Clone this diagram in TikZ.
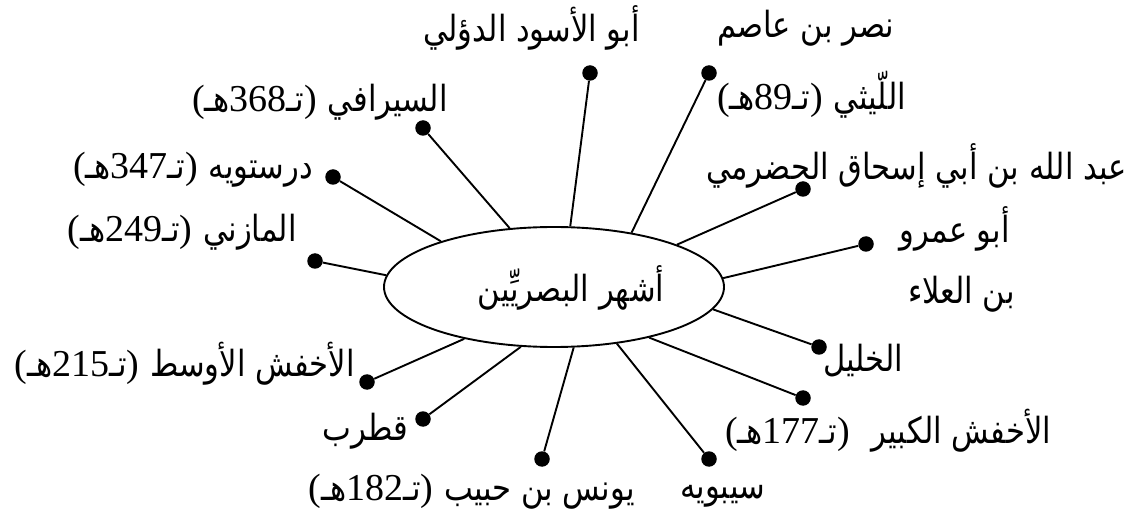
\documentclass[tikz,border=0pt]{standalone}
\usepackage{fontspec}
\usetikzlibrary{shapes.geometric}
\TeXXeTstate=1
\newfontfamily\arfont[Script=Arabic,FakeStretch=0.85]{DejaVu Sans}
\newfontfamily\serfont{Liberation Serif}
\newcommand\AR[1]{{\arfont\beginR #1\endR}}
\newcommand\SR[1]{{\serfont\fontsize{38bp}{40bp}\selectfont #1}}
\begin{document}
\begin{tikzpicture}[x=1bp,y=-1bp,
  dot/.style={circle,fill=black,inner sep=0pt,minimum size=15.5bp},
  link/.style={line width=1.9bp},
  lbl/.style={inner sep=0pt,font=\fontsize{36bp}{40bp}\selectfont},
  hubshape/.style={draw,ellipse,line width=1.9bp,minimum width=340bp,minimum height=120bp,inner sep=0pt}]
\useasboundingbox (0,0) rectangle (1131,523);
\node[hubshape] (hub) at (554,287) {};
\node[lbl,anchor=base] (hubtext) at (571,302) {\AR{أشهر البصريِّين}};
% dots
\node[dot] (d1) at (590,73) {};
\node[dot] (d2) at (709,73) {};
\node[dot] (d3) at (803,189) {};
\node[dot] (d4) at (866,244) {};
\node[dot] (d5) at (819,347) {};
\node[dot] (d6) at (803,398) {};
\node[dot] (d7) at (709,459) {};
\node[dot] (d8) at (542,459) {};
\node[dot] (d9) at (423,419) {};
\node[dot] (d10) at (367,382) {};
\node[dot] (d11) at (315,261) {};
\node[dot] (d12) at (333,177) {};
\node[dot] (d13) at (423,128) {};
% links
\draw[link] (d1) -- (hub.75);
\draw[link] (d2) -- (hub.35.6);
\draw[link] (d3) -- (hub.19.4);
\draw[link] (d4) -- (hub.3);
\draw[link] (d5) -- (hub.-8.7);
\draw[link] (d6) -- (hub.-28.3);
\draw[link] (d7) -- (hub.-42.6);
\draw[link] (d8) -- (hub.-72.4);
\draw[link] (d9) -- (hub.241.5);
\draw[link] (d10) -- (hub.210.2);
\draw[link] (d11) -- (hub.176.6);
\draw[link] (d12) -- (hub.158.9);
\draw[link] (d13) -- (hub.127.8);
% labels
\node[lbl,anchor=base east] (t1) at (640,42) {\AR{أبو الأسود الدؤلي}};
\node[lbl,anchor=base west] (t2a) at (717,38) {\AR{نصر بن عاصم}};
\node[lbl,anchor=base west] (t2b) at (717,110) {\SR{(}\AR{هـ}\SR{89}\AR{تـ}\SR{)}\ \AR{اللّيثي}};
\node[lbl,anchor=base east] (t3) at (1127,180) {\AR{عبد الله بن أبي إسحاق الحضرمي}};
\node[lbl,anchor=base east] (t4a) at (1010,243) {\AR{أبو عمرو}};
\node[lbl,anchor=base east] (t4b) at (1015,304) {\AR{بن العلاء}};
\node[lbl,anchor=base west] (t5) at (823,372) {\AR{الخليل}};
\node[lbl,anchor=base west] (t6) at (725,443) {\SR{(}\AR{هـ}\SR{177}\AR{تـ}\SR{)}\ \ \AR{الأخفش الكبير}};
\node[lbl,anchor=base west] (t7) at (680,498) {\AR{سيبويه}};
\node[lbl,anchor=base east] (t8) at (635,500) {\SR{(}\AR{هـ}\SR{182}\AR{تـ}\SR{)}\ \AR{يونس بن حبيب}};
\node[lbl,anchor=base east] (t9) at (408,440) {\AR{قطرب}};
\node[lbl,anchor=base east] (t10) at (355,377) {\SR{(}\AR{هـ}\SR{215}\AR{تـ}\SR{)}\ \AR{الأخفش الأوسط}};
\node[lbl,anchor=base east] (t11) at (297,242) {\SR{(}\AR{هـ}\SR{249}\AR{تـ}\SR{)}\ \AR{المازني}};
\node[lbl,anchor=base east] (t12) at (313,179) {\SR{(}\AR{هـ}\SR{347}\AR{تـ}\SR{)}\ \AR{درستويه}};
\node[lbl,anchor=base east] (t13) at (448,112) {\SR{(}\AR{هـ}\SR{368}\AR{تـ}\SR{)}\ \AR{السيرافي}};
\end{tikzpicture}
\end{document}
